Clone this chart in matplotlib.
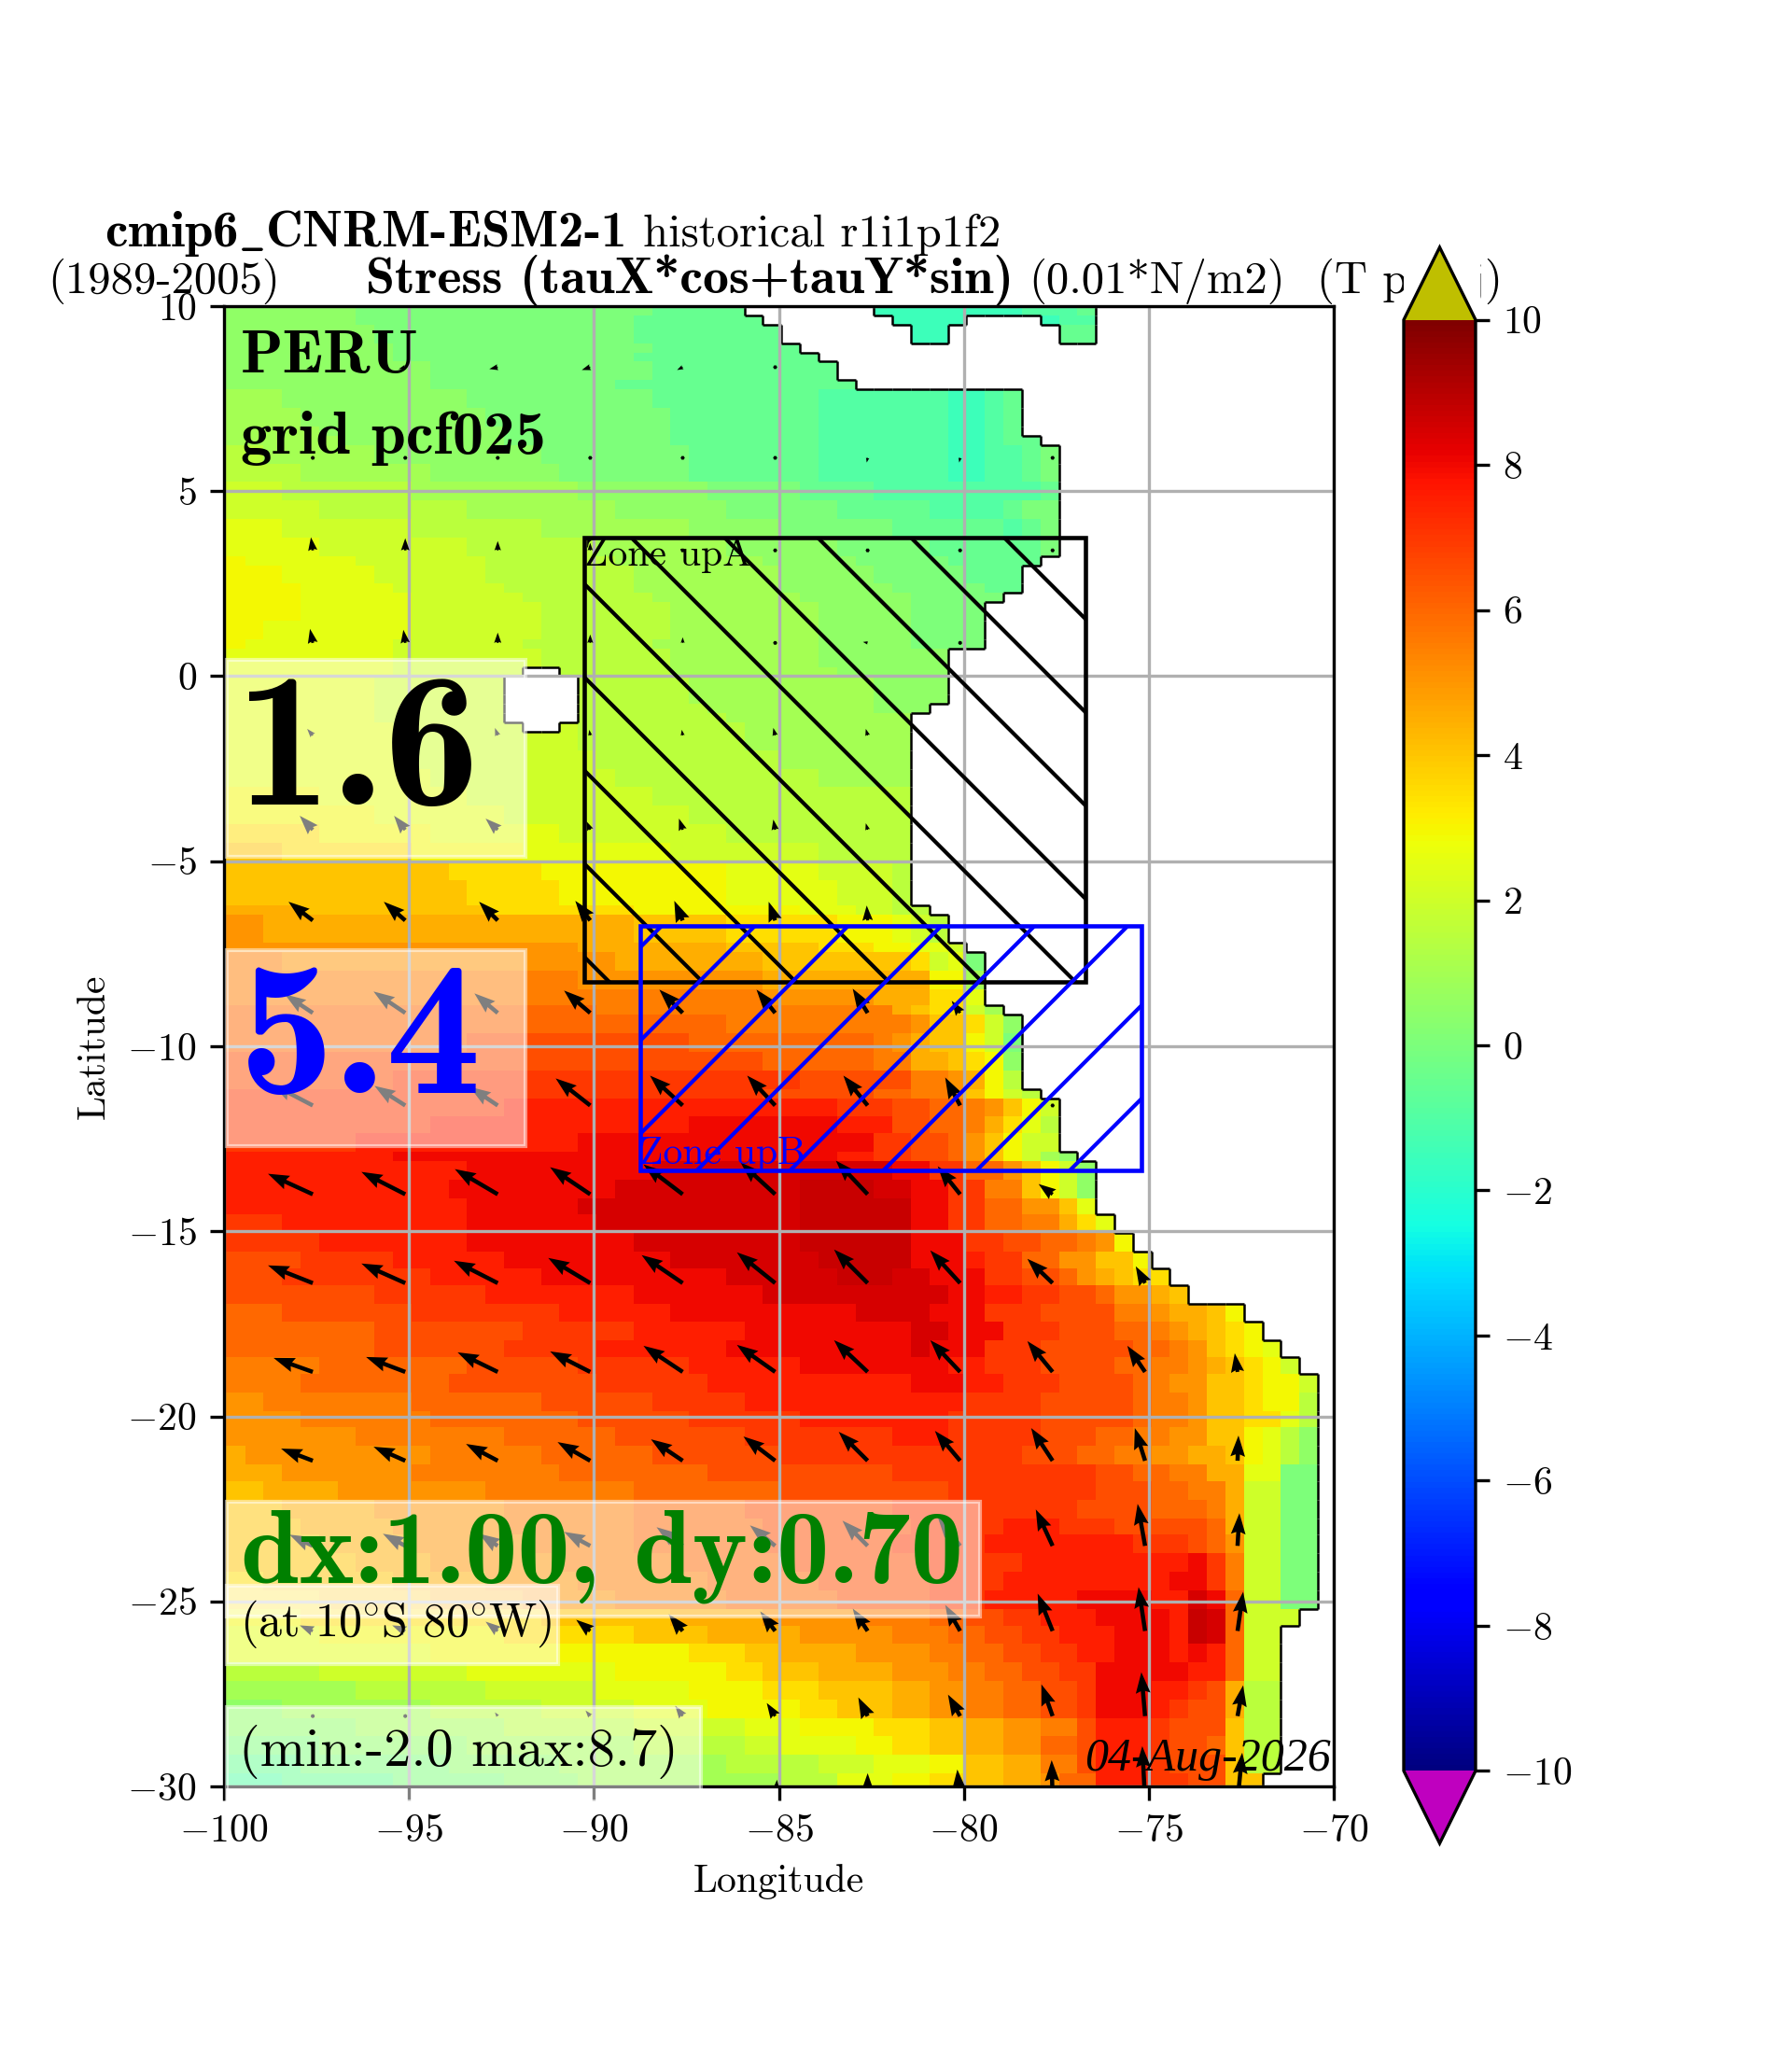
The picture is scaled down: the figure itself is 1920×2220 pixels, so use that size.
import re
import numpy as np
import matplotlib
matplotlib.use('Agg')
import matplotlib.pyplot as plt
from matplotlib.collections import LineCollection
from matplotlib.patches import Rectangle

plt.rcParams['font.family'] = 'cmr10'
plt.rcParams['mathtext.fontset'] = 'cm'
plt.rcParams['axes.formatter.use_mathtext'] = True
plt.rcParams['axes.unicode_minus'] = True

# grid of the field
lon_first = -100.43
lon_step = 0.5
n_lon = 60
lat_edges = [10, 9.75, 9.5, 9, 8.75, 8.5, 8, 7.75, 7.25, 6.75, 6.5, 6.25, 5.75, 5.25, 4.75, 4.25, 3.75, 3.25, 3,
             2.5, 2.25, 2, 1.5, 1, 0.75, 0.25, 0, -0.5, -0.75, -1, -1.25, -1.5, -2, -2.5, -3, -3.5, -4, -4.5, -5,
             -5.5, -6.2, -6.45, -7.2, -7.45, -7.95, -8.45, -8.9, -9.15, -9.65, -10.15, -10.65, -11.15, -11.4,
             -11.9, -12.35, -12.85, -13.1, -13.6, -14.1, -14.55, -15.05, -15.55, -16, -16.45, -16.95, -17.45,
             -17.95, -18.4, -18.85, -19.35, -19.85, -20.3, -20.8, -21.3, -21.75, -22.25, -22.75, -23.2, -23.7,
             -24.2, -24.7, -25.2, -25.65, -26.15, -26.65, -27.15, -27.65, -28.15, -28.65, -29.15, -29.65, -30]

# letter -> value, the rows below are run lengths of these letters
field_levels = dict(zip('abcdefghijklmnopqrstuvw',
                        [-2, -1.5, -1, -0.5, 0, 0.5, 1, 1.5, 2, 2.5, 2.9, 3.5, 4, 4.5, 5, 5.5, 6, 6.5, 7, 7.5, 8, 8.5, 8.7]))
field_rows = [
    'f8e16d12b8c3d1', 'f8e15d14b9c2d3', 'f9e14d14b8c1d2', 'f10e14d8', 'f10e13d10', 'f12e12d10', 'f12e10d13',
    'g4f10e10d9c7b2c1d1', 'g5f10e10d8c7b2c1d1', 'g6f10e9d8c7b2c1d1', 'g7f9e9d8c7b2c1d2',
    'h3g6f9e8d7c7b2c2d1e1', 'h5g7f7e7d7c7b2c2d1e1', 'i4h7g9f7e5d4c7c2d1e1', 'i6h8g8f6e6d5c4d1e2',
    'j4i7h7g8f5e6d6c1d1e1', 'j6i8h7g7f6e5d6e1', 'k2j6i7h7g8f5e5d5', 'k4j5i6h8g8f5e5d3', 'k5j5i6h7g8f6e5d2',
    'k5j6i6h7g8f6e5', 'k5j6i7h7g8f5e4', 'k3j8i7h7g8f5e4', 'k2j8i7h7g9f5e4', 'j10i8h7g8f7', 'j10i8h7g9f6',
    'j9i9h8g10f4', 'j9i9h8g10f4', 'j9i10h8g9f3', 'j9i10h9g10', 'j10i10h9g9', 'j10i10h9g9', 'j11i10h10g7',
    'j12i10h11g5', 'k6j8i10h14', 'k9j7i10h12', 'l6k6j7i9h10', 'm4l7k6j8i8h5',
    'm13l5k10j5i4h1', 'm14l5k9j6i3h1', 'n5m10l8k9j3i2h2', 'o3n20m5l6k3j1i1h1', 'o20n8m5l3k2j2i1',
    'p4o18n8m8l1i1j1e1', 'p20o10n9k2g1', 'p30o6n3l2j1', 'q21p16n1m1l2i1g1', 'q28p10o1m2l1i1f1',
    'q14r12q10p1o1n1m2k1i1e1', 'r30q6p2n2m1l1k1f1', 'r10s22r6p2o1n1k1h1', 's30r6q2p2o1m1k1i1h1',
    's16t18s3r2q2p1o1m1k1i1', 's12t14u8t3r2q2p1n1l1j1h1', 's8t12u16s2r2q1o1m1k1i2', 't10u24t2s2r2q1o1m1k1i1g1f1',
    't14u10v13u2s2q2o1m1k1i1f1', 't13u9v10w4v2u2s2p2m1k1i1f1', 't14u6v12w6u2s2q2o2m1j1',
    's4t10u7v11w6u2s2q2p2n1l1j1', 's6t8u9v9w6u3s2r2q2p1o1k1', 'r5s5t6u9v8w5u3t1s2q2o2m2k1',
    'r4s8t6u10v6w3v2u3s2r2q1o1n1m1l2', 'r9s6t8u7v10u2t2s2r2q1o2n1m1', 'q4r7s8t6u10v4u3s3r4p2o1n2m1k1',
    'q9r8s6t6u9v2u3s3r3q2p1o1n1m1l1k1', 'q9r7s5t7u10v1u3s3r5q2p1o1m1l1k1j1', 'p6q8r6s6t6u8t2s3r4q2p2o1n1m1l1k1i1',
    'p5q8r8s6t11u3t2s3r4q1p1o2m2l1k2i1', 'o3p8q7r6s5t12s4r5q1p2o1m2l1k2h1', 'o5p7q8r6s6t8s5r5q1p2o1m2l2j1h1',
    'o8p8q6r7s8t3s5r3q2p2o2m2k1j1h1f1', 'n2o10p6q6r7s13r3q2p2o2n2m1k1j1h1f1', 'n4o7p8q8r10s11r2q2p2n2j2e2',
    'm3n4o8p8q8r9s8r3q2p2n1i2e2', 'm4n5o7p7q6r8s10r4q3p1n1i2e2', 'm5n5o6p7q7r8s5t3s3r5q1n1i2e2',
    'm6n5o6p6q7r7s5t8s3r1q1o1i2e2', 'm8n4o7p6q6r8s5t9u1s1p1i2e2', 'l3m7n5o5p7q6r6s4t9u2s1p1i2e2',
    'l6m6n5o5p6q6r5s3t5u4t2v1u1q1i2e2', 'k5l13m7n5o5p4q2r2s2t3u4t1w1v1q1i3',
    'j6k10l7m4n5o5p3q2r2s2t3u3t1w1v1q1i2', 'j12k14l3m2n4o4p2q2r2s2t2u3t1u1t1q1i2',
    'h6i8j8k6l2m3n4o3p2q2r2s2u5t2q1i2', 'g8h7i6j5k4l3m4n2o2p2q2r2s1u3t2s1r1n1h2',
    'f4g8h6i5j4k5l2m3n2o2p2q2r2s1u3t1s1r2n1h2', 'f8g8h7i6j3k4l3m2n2o2p2r1t3s1r3m1h2',
    'e6f8g9h6i2j4k2l2m2n2o2q2r1t3s1r2q1m1h2', 'd5e8f6g9h5i3j3k2m2n2p2r1t3s1r3m1h2',
    'c4d6e6f4g11h3j3k2l2m2n2o1q2t3s2r2m2',
]
# number of sea cells from the west side, row by row
east_cells = [29, 30, 31, 32, 33, 34, 35, 44, 44, 44, 45, 46, 46, 46, 46, 46, 46, 45, 44, 44, 43, 42, 42, 42,
              40, 40, 40, 40, 39, 38, 38, 38, 38, 38, 38, 38, 38, 38, 38, 38, 39, 40, 41, 42, 42, 42, 43,
              44, 44, 44, 44, 45, 46, 46, 46, 47, 48, 48, 48, 49, 50, 51, 52, 53, 56, 57, 58, 59,
              60, 60, 60, 60, 60, 60, 60, 60, 60, 60, 60, 60, 60, 59, 58, 58, 58, 58, 58, 58, 58, 58, 57]
# caribbean side and galapagos: (row, first cell, last cell)
extra_sea = [(0, 36, 47), (1, 37, 40), (1, 45, 47), (2, 38, 39), (2, 46, 47)]
extra_land = [(25, 17, 18), (26, 16, 19), (27, 16, 19), (28, 16, 19), (29, 16, 19), (30, 17, 18)]

# stress arrows, length in pixels of the figure
nan = np.nan
arrow_lons = [-100.1, -97.6, -95.1, -92.6, -90.1, -87.6, -85.1, -82.6, -80.1, -77.6, -75.1, -72.6]
arrow_lats = [8.35, 5.9, 3.4, 0.9, -1.6, -4.15, -6.6, -9.1, -11.6, -14, -16.4, -18.8, -21.2, -23.5, -25.8, -28.1, -30.4]
arrow_u = [
    [-3, -7, -7, -9, -9, -6, 0, nan, nan, nan, nan, nan],
    [1, 2, 0, 0, 0, 0, 0, -1, -1, 0, nan, nan],
    [0, -2, 0, 0, 0, 0, 0, 0, 0, 0, nan, nan],
    [0, -3, -2, 0, 0, 0, -2, -5, 0, nan, nan, nan],
    [-3, -6, -5, -3, -1, -1, -2, -2, nan, nan, nan, nan],
    [-12, -14, -12, -13, -4, -4, -2, -2, nan, nan, nan, nan],
    [-25, -26, -23, -20, -16, -9, -7, -1, nan, nan, nan, nan],
    [-30, -30, -34, -25, -28, -25, -20, -16, -9, nan, nan, nan],
    [-40, -44, -33, -30, -37, -35, -30, -26, -16, -2, nan, nan],
    [-48, -48, -47, -46, -43, -42, -37, -34, -24, -15, nan, nan],
    [-48, -48, -47, -47, -45, -44, -41, -36, -32, -27, -10, nan],
    [-42, -42, -42, -43, -43, -42, -41, -36, -32, -27, -19, -3],
    [-34, -34, -34, -34, -35, -34, -34, -31, -27, -23, -11, 1],
    [-25, -25, -24, -20, -28, -28, -27, -27, -24, -18, -8, 2],
    [-14, -14, -14, -13, -15, -15, -16, -16, -16, -16, -7, 6],
    [-3, -3, -3, -3, -5, -8, -9, -10, -13, -12, -4, 6],
    [0, 0, 0, 0, 2, 4, 2, 0, -3, -1, -3, 5],
]
arrow_v = [
    [-1, -2, -2, -2, -3, -3, 0, nan, nan, nan, nan, nan],
    [-1, -3, 0, 0, 0, 0, 0, -5, -5, 0, nan, nan],
    [12, 14, 13, 10, 8, 0, 0, 0, 0, 0, nan, nan],
    [12, 15, 14, 11, 9, 6, 4, 1, -4, nan, nan, nan],
    [6, 7, 8, 8, 6, 6, 8, 7, nan, nan, nan, nan],
    [15, 15, 15, 12, 9, 12, 11, 7, nan, nan, nan, nan],
    [20, 20, 20, 20, 21, 21, 20, 16, nan, nan, nan, nan],
    [20, 20, 23, 21, 24, 25, 25, 26, 13, nan, nan, nan],
    [23, 23, 21, 20, 29, 32, 32, 32, 30, 4, nan, nan],
    [22, 22, 24, 27, 29, 32, 34, 36, 30, 11, nan, nan],
    [19, 19, 21, 24, 27, 30, 33, 36, 35, 26, 18, nan],
    [15, 15, 16, 21, 22, 28, 29, 34, 34, 33, 28, 20],
    [13, 13, 15, 18, 20, 23, 26, 31, 32, 35, 35, 27],
    [12, 12, 13, 13, 15, 20, 22, 27, 31, 39, 45, 35],
    [6, 6, 6, 10, 12, 18, 21, 24, 28, 40, 47, 42],
    [2, 2, 2, 4, 6, 11, 14, 20, 23, 34, 47, 33],
    [0, 0, 0, 0, 5, 10, 23, 30, 34, 44, 59, 52],
]

cbar_ticks = [-10, -8, -6, -4, -2, 0, 2, 4, 6, 8, 10]

# zones: lon min, lon max, lat min, lat max
zone_a = [-90.25, -76.72, -8.25, 3.75]
zone_b = [-88.75, -75.2, -13.35, -6.75]


def decode_row(row):
    values = []
    for letter, count in re.findall(r'([a-w])(\d+)', row):
        values += [field_levels[letter]] * int(count)
    # the last value runs on up to the end of the row
    values += [values[-1]] * n_lon
    return values[:n_lon]


field = np.array([decode_row(r) for r in field_rows], dtype=float)
sea = np.zeros(field.shape, dtype=bool)
for i, n in enumerate(east_cells):
    sea[i, :n] = True
for i, a, b in extra_sea:
    sea[i, a:b + 1] = True
for i, a, b in extra_land:
    sea[i, a:b + 1] = False
lon_edges = lon_first + lon_step * np.arange(n_lon + 1)

W, H = 1920, 2220


def fx(x):
    return x / W


def fy(y):
    return 1 - y / H


fig = plt.figure(figsize=(6.4, 7.4), dpi=300)
ax = fig.add_axes([240 / W, 1 - 1914 / H, (1429 - 240) / W, (1914 - 328) / H])

cmap = plt.get_cmap('jet').copy()
cmap.set_over('y')
cmap.set_under('m')
mesh = ax.pcolormesh(lon_edges, lat_edges, np.ma.masked_where(~sea, field), cmap=cmap, vmin=-10, vmax=10)

# coast as steps, around the sea cells
segs = []
for i in range(sea.shape[0]):
    for j in range(sea.shape[1]):
        if not sea[i, j]:
            continue
        x0, x1 = lon_edges[j], lon_edges[j + 1]
        y0, y1 = lat_edges[i], lat_edges[i + 1]
        if j == n_lon - 1 or not sea[i, j + 1]:
            segs.append([(x1, y0), (x1, y1)])
        if j > 0 and not sea[i, j - 1]:
            segs.append([(x0, y0), (x0, y1)])
        if i > 0 and not sea[i - 1, j]:
            segs.append([(x0, y0), (x1, y0)])
        if i < sea.shape[0] - 1 and not sea[i + 1, j]:
            segs.append([(x0, y1), (x1, y1)])
ax.add_collection(LineCollection(segs, colors='k', linewidths=0.6, zorder=1.2))

ax.set_xlim(-100, -70)
ax.set_ylim(-30, 10)
ax.grid(True, color='#b0b0b0', linewidth=0.8)
ax.set_xlabel('Longitude')
ax.set_ylabel('Latitude')

X, Y = np.meshgrid(arrow_lons, arrow_lats)
ax.quiver(X, Y, np.array(arrow_u), np.array(arrow_v), angles='uv', scale_units='dots', scale=1.0, units='dots',
          width=4.5, headwidth=3.5, pivot='tail', color='k', zorder=3)


def draw_zone(zone, color, sign, start, label, label_y):
    box = Rectangle((zone[0], zone[2]), zone[1] - zone[0], zone[3] - zone[2], fill=False, edgecolor=color,
                    linewidth=1.1, zorder=4)
    ax.add_patch(box)
    # hatch lines are every 100 pixels here, wider than what agg gives for one stroke
    for k in range(-12, 13):
        c = start + 2.52 * k
        xs = np.array([zone[0] - 20, zone[1] + 20])
        line, = ax.plot(xs, c + sign * xs, color=color, lw=1.0, zorder=4)
        line.set_clip_path(box)
    ax.text(zone[0] - 0.02, label_y, label, color=color, fontsize=10, zorder=4)


draw_zone(zone_a, 'k', -1, -87.765, 'Zone upA', 2.98)
draw_zone(zone_b, 'b', 1, 78.9, 'Zone upB', -13.18)


def ftext(x, y, s, **kw):
    return fig.text(fx(x), fy(y), s, va='baseline', **kw)


def white_box(x0, y0, x1, y1):
    fig.add_artist(Rectangle((fx(x0), fy(y1)), (x1 - x0) / W, (y1 - y0) / H, transform=fig.transFigure,
                             facecolor='white', edgecolor='white', alpha=0.5, linewidth=1.0, zorder=5))


white_box(243, 707, 563, 918)
white_box(243, 1018, 563, 1228)
white_box(243, 1609, 1050, 1732)
white_box(243, 1699, 598, 1783)
white_box(243, 1829, 751, 1930)

ftext(258, 399, 'PERU', family='cmb10', fontsize=16, zorder=6)
ftext(258, 486, 'grid pcf025', family='cmb10', fontsize=16, zorder=6)
ftext(253, 862, '1.6', family='cmb10', fontsize=49, zorder=6)
ftext(256, 1171, '5.4', family='cmb10', fontsize=49, color='b', zorder=6)
ftext(258, 1695, 'dx:1.00, dy:0.70', family='cmb10', fontsize=27, color='g', zorder=6)
ftext(257, 1753, r'(at 10$\!^\circ\!$S 80$\!^\circ\!$W)', fontsize=12, zorder=6)
ftext(256, 1892, '(min:-2.0 max:8.7)', fontsize=14, zorder=6)
ftext(1426, 1897, '04-Aug-2026', family='Liberation Serif', style='italic', fontsize=12, ha='right', zorder=6)

# title, two lines; the colour bar tip sits on top of its end
ftext(112, 264, r'cmip6$\_$CNRM-ESM2-1', family='cmb10', fontsize=13.2, zorder=1)
ftext(689, 264, 'historical r1i1p1f2', fontsize=11.7, zorder=1)
ftext(51, 314, '(1989-2005)', fontsize=11.7, zorder=1)
ftext(392, 314, 'Stress (tauX*cos+tauY*sin)', family='cmb10', fontsize=13.4, zorder=1)
ftext(1102, 314, '(0.01*N/m2)', fontsize=11.7, zorder=1)
ftext(1411, 314, '(T prooj)', fontsize=11.7, zorder=1)
fig.add_artist(Rectangle((fx(1504), fy(344)), 82 / W, 90 / H, transform=fig.transFigure, facecolor='white',
                         edgecolor='none', zorder=2))

cax = fig.add_axes([1504 / W, 1 - 1975 / H, 77 / W, (1975 - 265) / H])
cax.set_zorder(3)
cbar = fig.colorbar(mesh, cax=cax, extend='both', ticks=cbar_ticks)

fig.savefig('out.png', dpi=300)
